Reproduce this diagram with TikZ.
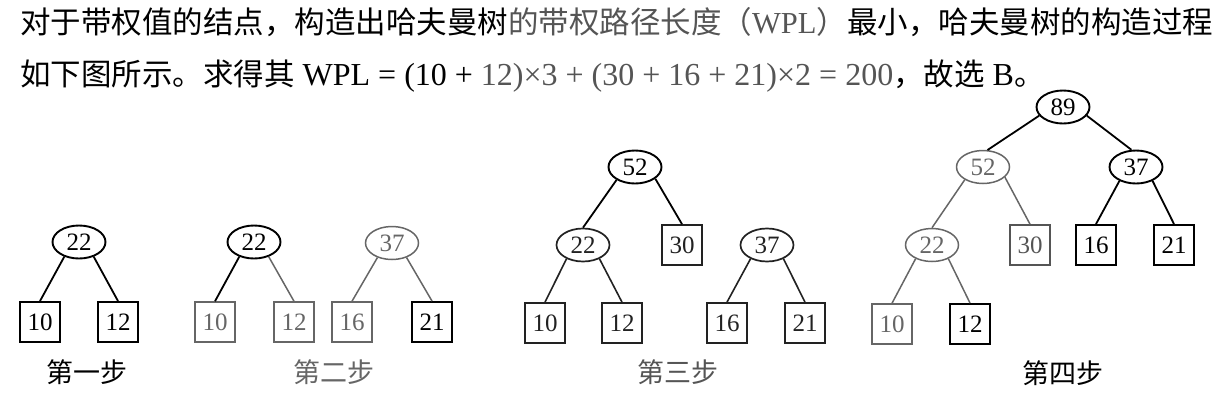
\documentclass[tikz,border=0pt]{standalone}
\usepackage{fontspec}
\setmainfont{Liberation Serif}
\newfontfamily\cjk{Noto Sans CJK SC}
\usetikzlibrary{shapes.geometric}
\definecolor{tg}{HTML}{555555}
\definecolor{lg}{HTML}{666666}
\definecolor{dk}{HTML}{222222}
\newcommand\latx{\fontsize{32}{36}\selectfont}
\tikzset{
  numfont/.style={font=\fontsize{25}{25}\selectfont},
  ell/.style={ellipse, draw=black, text=black, line width=1.9pt, minimum width=53pt, minimum height=33pt, inner sep=0pt, numfont},
  sq/.style={rectangle, draw=black, text=black, line width=1.9pt, minimum size=40pt, inner sep=0pt, numfont},
  gr/.style={draw=lg, text=lg, line width=1.5pt},
  dg/.style={draw=dk, text=dk, line width=1.7pt},
  bl/.style={draw=black, line width=1.8pt},
  gl/.style={draw=lg, line width=1.5pt},
  dl/.style={draw=dk, line width=1.6pt},
  steplabel/.style={font=\cjk\fontsize{27}{27}\selectfont, inner sep=0pt},
  headline/.style={anchor=base west, inner sep=0pt, font=\fontsize{30.5}{36}\selectfont}
}
\begin{document}
\begin{tikzpicture}[x=1pt,y=-1pt]
\useasboundingbox (0,0) rectangle (1216,410);
% heading
\node[headline] (h1) at (20,33) {{\cjk 对于带权值的结点，构造出哈夫曼树}{\color{tg}\cjk 的带权路径长度（}{\color{tg}WPL}{\color{tg}\cjk ）}{\cjk 最小，哈夫曼树的构造过程}};
\node[headline] (h2) at (20,85) {{\cjk 如下图所示。求得其}{\latx{} WPL = (10 + }{\latx\color{tg}12)×3 + (30 + 16 + 21)×2 = 200}{\cjk ，故选}{\latx{} B}{\cjk 。}};
% step 1
\node[ell] (a22) at (79,242) {22};
\node[sq] (a10) at (40,322) {10};
\node[sq] (a12) at (118,322) {12};
\draw[bl] (a22.225) -- (a10.north);
\draw[bl] (a22.-45) -- (a12.north);
\node[steplabel] (l1) at (87,372) {第一步};
% step 2
\node[ell] (b22) at (254,242) {22};
\node[sq,gr] (b10) at (215,322) {10};
\node[sq,gr] (b12) at (294,322) {12};
\node[ell,gr] (b37) at (392,243) {37};
\node[sq,gr] (b16) at (352,322) {16};
\node[sq] (b21) at (432,322) {21};
\draw[bl] (b22.225) -- (b10.north);
\draw[gl] (b22.-45) -- (b12.north);
\draw[gl] (b37.225) -- (b16.north);
\draw[gl] (b37.-45) -- (b21.north);
\node[steplabel, text=lg] (l2) at (334,372) {第二步};
% step 3
\node[ell] (c52) at (635,167) {52};
\node[ell,dg] (c22) at (583,245) {22};
\node[sq,dg] (c30) at (682,245) {30};
\node[ell,dg] (c37) at (767,245) {37};
\node[sq,dg] (c10) at (545,323) {10};
\node[sq,dg] (c12) at (622,323) {12};
\node[sq,dg] (c16) at (727,323) {16};
\node[sq,dg] (c21) at (805,323) {21};
\draw[bl] (c52.215) -- (c22.north);
\draw[bl] (c52.-30) -- (c30.north);
\draw[dl] (c22.220) -- (c10.north);
\draw[dl] (c22.-40) -- (c12.north);
\draw[dl] (c37.220) -- (c16.north);
\draw[dl] (c37.-40) -- (c21.north);
\node[steplabel, text=tg] (l3) at (678,372) {第三步};
% step 4
\node[ell] (d89) at (1063,107) {89};
\node[ell,gr] (d52) at (983,167) {52};
\node[ell] (d37) at (1136,167) {37};
\node[ell,gr] (d22) at (932,245) {22};
\node[sq,dg,draw=tg,text=tg] (d30) at (1030,245) {30};
\node[sq] (d16) at (1096,245) {16};
\node[sq] (d21) at (1174,245) {21};
\node[sq,gr] (d10) at (892,324) {10};
\node[sq] (d12) at (970,324) {12};
\draw[bl] (d89.200) -- (d52.75);
\draw[bl] (d89.-20) -- (d37.105);
\draw[gl] (d52.215) -- (d22.north);
\draw[gl] (d52.-25) -- (d30.north);
\draw[bl] (d37.220) -- (d16.north);
\draw[bl] (d37.-40) -- (d21.north);
\draw[gl] (d22.220) -- (d10.north);
\draw[gl] (d22.-40) -- (d12.north);
\node[steplabel] (l4) at (1063,373) {第四步};
\end{tikzpicture}
\end{document}
